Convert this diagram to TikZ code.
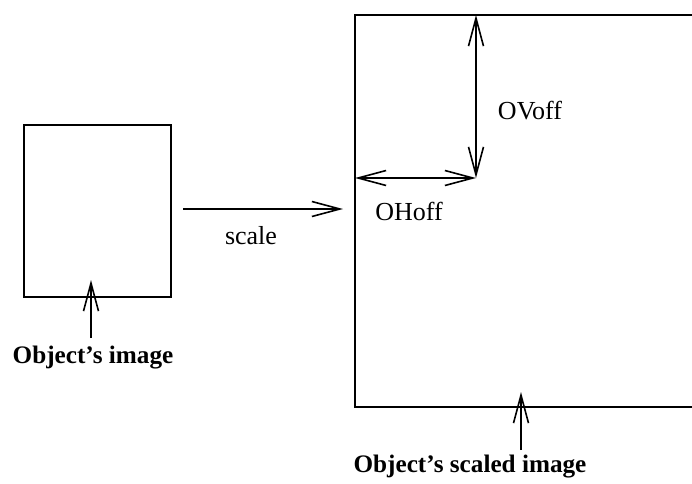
\documentclass[tikz,border=0pt]{standalone}
\usepackage{fontspec}
\setmainfont{Liberation Serif}
\usetikzlibrary{arrows.meta}

\begin{document}
\begin{tikzpicture}[x=0.5pt, y=-0.5pt, line width=1pt,
        >={Straight Barb[length=14pt, width=7.5pt, line width=0.8pt]},
        lbl/.style={font=\fontsize{13}{15}\selectfont},
        bold lbl/.style={font=\fontsize{12.6}{15}\selectfont\bfseries}]
        % Page frame in pixel units
        \useasboundingbox (0,0) rectangle (692,483);

        % The object's image
        \draw (24,125) rectangle (171,297);
        \coordinate (imgtail) at (91,338);
        \coordinate (imgtip) at (91,280);
        \node[bold lbl] (imglabel) at (93,358) {Object’s image};
        \draw[->] (imgtail) -- (imgtip);

        % Scaling arrow between the two images
        \coordinate (scaletail) at (183,209);
        \coordinate (scaletip) at (343,209);
        \node[lbl] (scalelabel) at (251,236) {scale};
        \draw[->] (scaletail) -- (scaletip);

        % The scaled image (runs past the right edge)
        \draw (692,15) -- (355,15) -- (355,407) -- (692,407);

        % Offsets of the origin
        \coordinate (origin) at (476,178);
        \coordinate (vtop) at (476,15);
        \coordinate (hleft) at (355,178);
        \draw[<->] (vtop) -- (origin);
        \draw[<->] (hleft) -- (origin);
        \node[lbl] (ovoff) at (530,111) {OVoff};
        \node[lbl] (ohoff) at (409,211) {OHoff};

        % Label of the scaled image
        \coordinate (scaledtail) at (521,450);
        \coordinate (scaledtip) at (521,392);
        \node[bold lbl] (scaledlabel) at (470,467) {Object’s scaled image};
        \draw[->] (scaledtail) -- (scaledtip);
    \end{tikzpicture}
\end{document}
